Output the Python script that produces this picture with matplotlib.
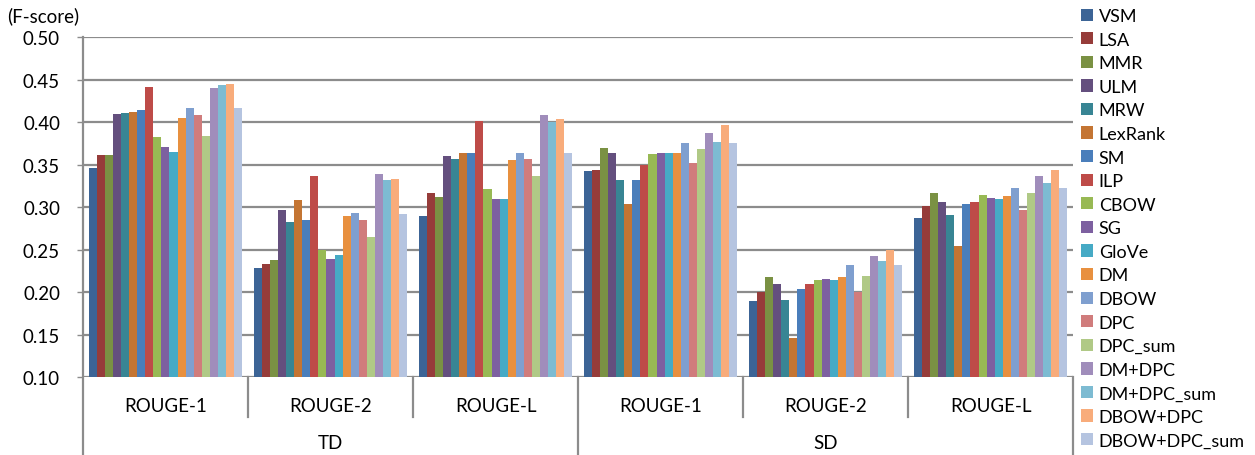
import numpy as np
import matplotlib as mpl
mpl.use('Agg')
import matplotlib.pyplot as plt
from matplotlib.patches import Patch
from matplotlib.lines import Line2D

plt.rcParams['font.family'] = ['Lato', 'DejaVu Sans']

# ROUGE F-scores for each method on the TD and SD corpora
methods = ['VSM', 'LSA', 'MMR', 'ULM', 'MRW', 'LexRank', 'SM', 'ILP', 'CBOW', 'SG',
           'GloVe', 'DM', 'DBOW', 'DPC', 'DPC_sum', 'DM+DPC', 'DM+DPC_sum',
           'DBOW+DPC', 'DBOW+DPC_sum']
metrics = ['ROUGE-1', 'ROUGE-2', 'ROUGE-L', 'ROUGE-1', 'ROUGE-2', 'ROUGE-L']
datasets = ['TD', 'SD']

td_rouge1 = [0.346, 0.361, 0.361, 0.410, 0.411, 0.412, 0.414, 0.441, 0.382, 0.371,
             0.365, 0.405, 0.417, 0.408, 0.383, 0.440, 0.444, 0.445, 0.417]
td_rouge2 = [0.228, 0.233, 0.238, 0.297, 0.282, 0.308, 0.285, 0.337, 0.249, 0.239,
             0.244, 0.289, 0.293, 0.285, 0.265, 0.339, 0.332, 0.333, 0.292]
td_rougel = [0.289, 0.316, 0.312, 0.360, 0.357, 0.363, 0.363, 0.401, 0.321, 0.310,
             0.309, 0.355, 0.364, 0.356, 0.336, 0.408, 0.400, 0.404, 0.364]
sd_rouge1 = [0.342, 0.344, 0.369, 0.364, 0.332, 0.304, 0.332, 0.349, 0.362, 0.364,
             0.363, 0.364, 0.375, 0.352, 0.368, 0.387, 0.376, 0.396, 0.375]
sd_rouge2 = [0.189, 0.200, 0.218, 0.210, 0.191, 0.146, 0.204, 0.209, 0.214, 0.215,
             0.214, 0.218, 0.232, 0.200, 0.219, 0.242, 0.236, 0.249, 0.232]
sd_rougel = [0.287, 0.301, 0.317, 0.306, 0.291, 0.254, 0.303, 0.306, 0.314, 0.311,
             0.310, 0.313, 0.322, 0.297, 0.316, 0.337, 0.328, 0.344, 0.322]

colors = ['#3C6496', '#963C3A', '#7A9143', '#644F7E', '#388594', '#C47533',
          '#4A7EBB', '#BE4B48', '#98B954', '#7D60A0', '#46AAC5', '#E8903F',
          '#7F9FCF', '#D07C7C', '#B0C986', '#A08DBB', '#7DBBD2', '#F8AC7B',
          '#B5C4E0']

scores = np.array([td_rouge1, td_rouge2, td_rougel, sd_rouge1, sd_rouge2, sd_rougel])
n_groups, n_methods = scores.shape
grid_col = '#8C8C8C'
fs = 13.5

fig = plt.figure(figsize=(12.55, 4.56), dpi=100)
ax = fig.add_axes([0.0661, 0.171, 0.789, 0.7456])

bw = 153.0 / 165.0 / n_methods
x = np.arange(n_groups) + 0.5
for i in range(n_methods):
    off = (i - (n_methods - 1) / 2.0) * bw
    ax.bar(x + off, scores[:, i] - 0.10, bw, bottom=0.10, color=colors[i],
           linewidth=0, zorder=3)

ax.set_xlim(0, n_groups)
ax.set_ylim(0.10, 0.50)
yt = np.arange(0.10, 0.501, 0.05)
ax.set_yticks(yt)
ax.set_yticklabels(['%.2f' % v for v in yt], fontsize=fs)
ax.yaxis.grid(True, color=grid_col, linewidth=1.6, zorder=0)
ax.set_xticks([])
ax.tick_params(axis='y', length=4.5, width=1.0, color=grid_col, pad=12)
for s in ['top', 'right', 'bottom', 'left']:
    ax.spines[s].set_visible(False)

# two-level category axis under the plot
tr = ax.get_xaxis_transform()
ax.add_line(Line2D([0, 0], [1, -0.23], transform=tr, color=grid_col, lw=1.6,
                   clip_on=False))
for g in range(1, n_groups + 1):
    low = -0.23 if g % 3 == 0 else -0.118
    ax.add_line(Line2D([g, g], [0, low], transform=tr, color=grid_col, lw=1.6,
                       clip_on=False))
for g in range(n_groups):
    ax.text(g + 0.5, -0.085, metrics[g], transform=tr, ha='center', va='center',
            fontsize=fs)
for d, name in enumerate(datasets):
    ax.text(d * 3 + 1.5, -0.192, name, transform=tr, ha='center', va='center',
            fontsize=fs)

fig.text(0.006, 0.965, '(F-score)', fontsize=fs, ha='left', va='center')

handles = [Patch(facecolor=c, edgecolor='none') for c in colors]
fig.legend(handles, methods, loc='upper left', bbox_to_anchor=(0.853, 1.004),
           frameon=False, fontsize=13, handlelength=0.67, handleheight=0.67,
           handletextpad=0.3, labelspacing=0.42, borderpad=0.1)

fig.savefig('out.png', dpi=100)
